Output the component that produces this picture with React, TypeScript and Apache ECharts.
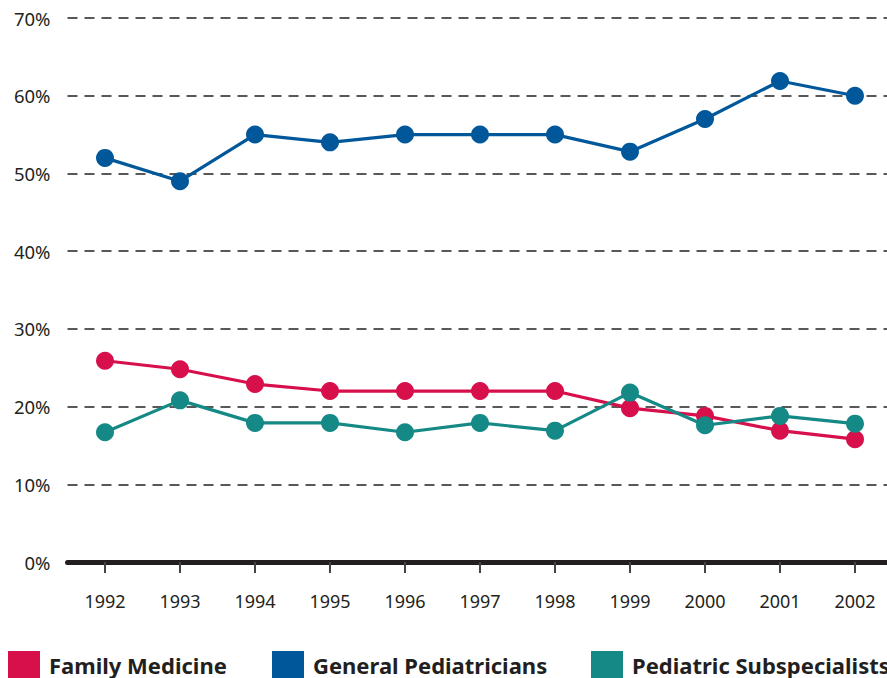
import React, { useEffect, useRef } from "react";
import * as echarts from "echarts";

const years = ["1992", "1993", "1994", "1995", "1996", "1997", "1998", "1999", "2000", "2001", "2002"];
const familyMedicine = [25.9, 24.8, 22.9, 22.0, 22.0, 22.0, 22.0, 19.8, 18.8, 16.9, 15.8];
const generalPediatricians = [52.0, 49.0, 55.0, 54.0, 55.0, 55.0, 55.0, 52.8, 57.0, 61.9, 60.0];
const pediatricSubspecialists = [16.7, 20.8, 17.9, 17.9, 16.7, 17.9, 16.9, 21.8, 17.6, 18.8, 17.8];

const seriesNames = ["Family Medicine", "General Pediatricians", "Pediatric Subspecialists"];
const seriesColors = ["#D7104B", "#00589B", "#148985"];
const seriesData = [familyMedicine, generalPediatricians, pediatricSubspecialists];
const legendLefts = [8, 272, 591];

export default function App() {
  const ref = useRef<HTMLDivElement>(null);
  useEffect(() => {
    const chart = echarts.init(ref.current!, null, { renderer: "svg" });
    const font = "'Noto Sans', sans-serif";
    chart.setOption({
      animation: false,
      grid: { left: 67.5, right: 7.5, top: 18, bottom: 116, containLabel: false },
      legend: seriesNames.map((n, i) => ({
        data: [n],
        left: legendLefts[i],
        top: 651,
        itemWidth: 32,
        itemHeight: 27,
        itemGap: 0,
        padding: 0,
        icon: "rect",
        textStyle: { fontFamily: font, fontSize: 22, lineHeight: 22, fontWeight: "bold", color: "#231f20", padding: [0, 0, 0, 4] },
      })),
      xAxis: {
        type: "category",
        data: years,
        boundaryGap: true,
        axisLine: { show: true, lineStyle: { color: "#231f20", width: 5 } },
        axisTick: { show: true, alignWithLabel: true, length: 11, lineStyle: { color: "#444", width: 2 } },
        axisLabel: { margin: 30, fontFamily: font, fontSize: 18, color: "#231f20" },
        splitLine: { show: false },
      },
      yAxis: {
        type: "value",
        min: 0,
        max: 70,
        interval: 10,
        axisLine: { show: false },
        axisTick: { show: false },
        axisLabel: { margin: 17, fontFamily: font, fontSize: 18.5, color: "#231f20", formatter: "{value}%" },
        splitLine: { show: true, lineStyle: { color: "#222", width: 1.5, type: [10, 7] } },
      },
      series: seriesNames.map((n, i) => ({
        name: n,
        type: "line",
        data: seriesData[i],
        color: seriesColors[i],
        symbol: "circle",
        symbolSize: 18,
        lineStyle: { width: 3.2, color: seriesColors[i] },
        itemStyle: { color: seriesColors[i] },
        z: i === 2 ? 3 : 2,
      })),
    });
    return () => chart.dispose();
  }, []);
  return (
    <div style={{ width: 887, height: 678, position: "absolute", left: 0, top: 0, overflow: "hidden" }}>
      <div ref={ref} style={{ width: 900, height: 678 }} />
    </div>
  );
}
